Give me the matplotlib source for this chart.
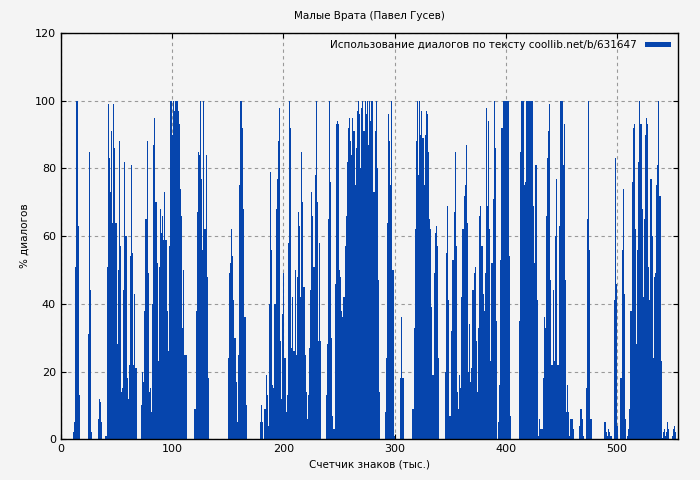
import matplotlib
matplotlib.use("Agg")
import matplotlib.pyplot as plt
import numpy as np

title = "Малые Врата (Павел Гусев)"
xlabel = "Счетчик знаков (тыс.)"
ylabel = "% диалогов"
legend_label = "Использование диалогов по тексту coollib.net/b/631647"

# clusters of consecutive bars: (start position in thousand chars, values %)
cluster_starts = [11, 24, 33, 40, 72, 120, 150, 179, 183, 222, 238, 291, 305, 316, 345, 393, 412, 430, 457, 466, 472, 488, 497, 503, 509, 540]
cluster_values = [
    [2, 5, 51, 100, 63, 13],
    [31, 85, 44, 2],
    [6, 12, 11, 5],
    [1, 51, 99, 83, 73, 91, 64, 99, 86, 64, 28, 50, 88, 57, 14, 15, 44, 82, 60, 18, 12, 22, 54, 81, 55, 22, 43, 21],
    [10, 20, 17, 38, 65, 88, 49, 14, 15, 8, 40, 87, 95, 70, 52, 23, 51, 68, 61, 66, 59, 73, 59, 38, 26, 57, 100, 100, 90, 100, 97, 100, 100, 97, 93, 74, 66, 33, 50, 25, 25],
    [9, 38, 67, 85, 84, 100, 77, 56, 100, 62, 84, 48, 18],
    [24, 49, 52, 62, 54, 41, 30, 17, 5, 25, 75, 100, 100, 92, 68, 36, 10],
    [5, 10, 5],
    [9, 19, 13, 4, 40, 79, 56, 16, 15, 40, 68, 77, 88, 98, 29, 12, 37, 49, 24, 8, 13, 58, 100, 92, 27, 42, 26, 50, 25, 48, 67, 63, 42, 85, 70, 45, 25, 14, 6],
    [13, 27, 44, 73, 66, 51, 78, 100, 70, 29, 58, 29],
    [13, 28, 65, 100, 76, 30, 7, 3, 46, 93, 94, 93, 50, 48, 38, 36, 42, 57, 66, 82, 92, 95, 88, 84, 95, 91, 75, 86, 97, 100, 96, 80, 98, 100, 91, 100, 96, 100, 87, 100, 94, 100, 100, 73, 91, 100, 80, 47, 14],
    [8, 24, 64, 96, 88, 75, 100, 50, 1],
    [18, 36, 18],
    [9, 33, 62, 88, 100, 78, 100, 90, 97, 89, 75, 90, 97, 96, 85, 65, 62, 39, 19, 49, 61, 63, 57, 24],
    [20, 55, 69, 41, 7, 7, 32, 53, 67, 85, 57, 14, 9, 19, 15, 42, 62, 72, 75, 87, 64, 20, 34, 17, 21, 44, 49, 51, 29, 14, 33, 66, 69, 57, 43, 38, 49, 98, 69, 94, 62, 23, 52, 71, 100, 86, 35],
    [5, 16, 53, 92, 100, 100, 100, 100, 100, 100, 54, 7],
    [35, 85, 100, 100, 75, 76, 100, 100, 100, 100, 100, 100, 69, 52, 81, 81, 41, 1],
    [6, 3, 3, 18, 36, 33, 66, 83, 91, 99, 47, 22, 44, 23, 60, 77, 22, 22, 63, 100, 100, 81, 93, 47, 8, 16, 8],
    [1, 6, 6, 3],
    [4, 9, 6, 1],
    [15, 65, 100, 56, 6],
    [5, 5, 2, 1, 3, 2, 1],
    [41, 83, 46, 4],
    [18, 56, 74, 43, 6],
    [1, 3, 9, 38, 76, 92, 93, 62, 28, 56, 82, 100, 93, 68, 42, 65, 90, 95, 93, 51, 41, 77, 60, 24, 48, 49, 75, 81, 100, 72, 23],
    [0.5, 2, 3, 1, 2, 5, 3, 0, 0, 1, 3, 4, 2],
]

xs, ys = [], []
for s, vals in zip(cluster_starts, cluster_values):
    for i, v in enumerate(vals):
        xs.append(s + i)
        ys.append(v)

bg = "#f4f4f4"
color = "#0645ad"
fig = plt.figure(figsize=(7, 4.8), dpi=100, facecolor=bg)
ax = fig.add_axes([0.087, 0.085, 0.882, 0.846], facecolor=bg)
ax.bar(xs, ys, width=1.0, align="edge", color=color, linewidth=0, label=legend_label)
ax.set_xlim(0, 555)
ax.set_ylim(0, 120)
ax.set_xticks(range(0, 501, 100))
ax.set_yticks(range(0, 121, 20))
ax.grid(True, color="#999999", linestyle=(0, (3, 3)), linewidth=0.8)
ax.set_axisbelow(True)
ax.tick_params(direction="in", top=True, right=True, labelsize=8)
for sp in ax.spines.values():
    sp.set_linewidth(1)
ax.set_title(title, fontsize=7.5, pad=10)
ax.set_xlabel(xlabel, fontsize=7.5)
ax.set_ylabel(ylabel, fontsize=7.5)
leg = ax.legend(loc="upper right", fontsize=7.5, frameon=False, handlelength=2.5, handleheight=0.4,
                markerfirst=False, borderaxespad=0.3)
fig.savefig("out.png", dpi=100, facecolor=bg)
